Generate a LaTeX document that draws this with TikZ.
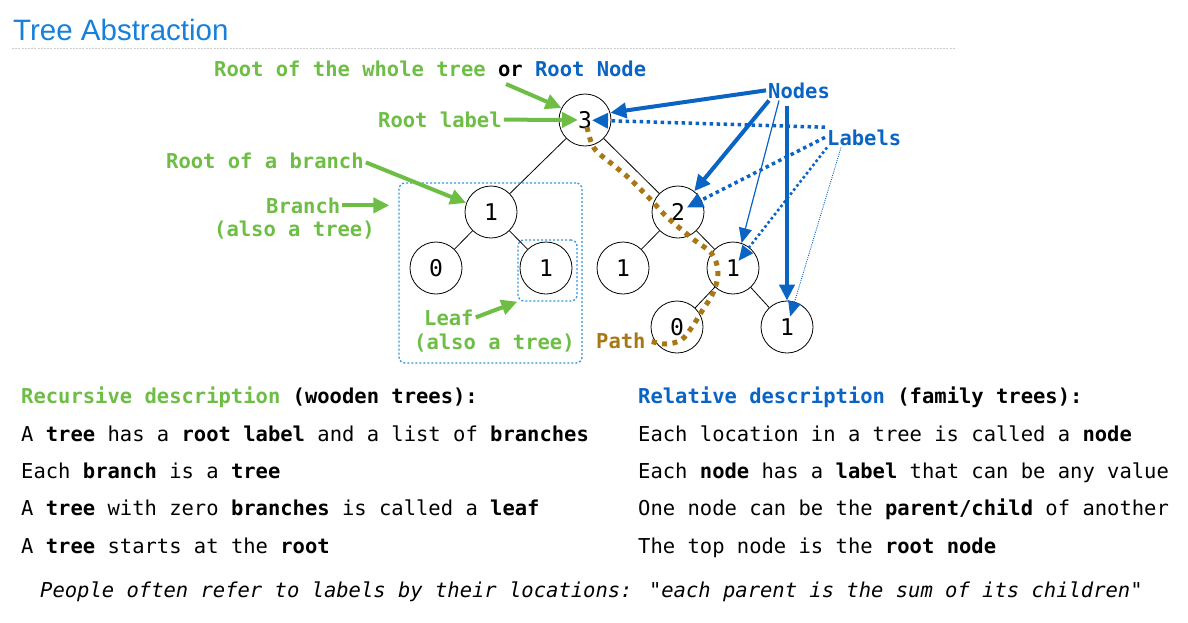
\documentclass[tikz,border=0pt]{standalone}
\usepackage{fontspec}
\setmainfont{DejaVu Sans Mono}[Ligatures=TeXOff]
\newfontfamily\titlefont{Liberation Sans}
\usetikzlibrary{arrows.meta}

\definecolor{tgreen}{RGB}{110,190,70}
\definecolor{tblue}{RGB}{10,100,195}
\definecolor{boxblue}{RGB}{50,150,220}
\definecolor{tbrown}{RGB}{168,120,22}
\definecolor{titleblue}{RGB}{22,128,218}
\definecolor{rulegray}{RGB}{205,205,205}

\newcommand{\bodyfont}{\fontsize{20.5}{24}\selectfont}

\tikzset{
  treenode/.style={circle, draw=black, line width=0.8pt, minimum size=52pt,
    inner sep=0pt, font=\fontsize{23}{26}\selectfont},
  treeedge/.style={draw=black, line width=0.8pt},
  txt/.style={anchor=base west, inner sep=2pt, font=\bodyfont},
  ann/.style={txt, text=tgreen, font=\bodyfont\bfseries},
  blueann/.style={txt, text=tblue, font=\bodyfont\bfseries},
  bighead/.style={-{Triangle[length=16pt,width=15pt]}},
  greenarrow/.style={bighead, draw=tgreen, fill=tgreen, line width=4pt},
  nodearrow/.style={bighead, draw=tblue, fill=tblue, line width=4pt},
  thinnodearrow/.style={-{Triangle[length=15pt,width=13pt]}, draw=tblue, fill=tblue, line width=1.2pt},
  labelarrow/.style={draw=tblue, line width=3.5pt, dash pattern=on 3.5pt off 3.5pt,
    -{Triangle[length=16pt,width=15pt,sep=0pt]}},
  dottedbox/.style={draw=boxblue, line width=1.3pt, dash pattern=on 2pt off 2pt,
    rounded corners=6pt, inner sep=0pt},
  pathline/.style={draw=tbrown, line width=5pt, dash pattern=on 5pt off 5.5pt}
}

\begin{document}
\begin{tikzpicture}[x=1pt,y=-1pt]
\useasboundingbox (0,0) rectangle (1188,622);

% heading and rule
\node[anchor=base west, inner sep=0pt, text=titleblue,
  font=\titlefont\fontsize{29.5}{33}\selectfont] (title) at (13,40) {Tree Abstraction};
\draw[rulegray, line width=1pt, dash pattern=on 2pt off 1.2pt] (12,48) -- (955,48);

% the tree
\node[treenode] (n3)  at (585,120) {3};
\node[treenode] (n1)  at (491,212) {1};
\node[treenode] (n0a) at (436,268) {0};
\node[treenode] (n1a) at (546,268) {1};
\node[treenode] (n2)  at (678,212) {2};
\node[treenode] (n1b) at (623,268) {1};
\node[treenode] (n1c) at (733,268) {1};
\node[treenode] (n0b) at (677,327) {0};
\node[treenode] (n1d) at (787,327) {1};

\draw[treeedge] (n3) -- (n1);
\draw[treeedge] (n3) -- (n2);
\draw[treeedge] (n1) -- (n0a);
\draw[treeedge] (n1) -- (n1a);
\draw[treeedge] (n2) -- (n1b);
\draw[treeedge] (n2) -- (n1c);
\draw[treeedge] (n1c) -- (n0b);
\draw[treeedge] (n1c) -- (n1d);

% branch and leaf outlines
\node[dottedbox, minimum width=183pt, minimum height=180pt] (bbox) at (490.5,273) {};
\node[dottedbox, minimum width=59pt, minimum height=61pt] (lbox) at (547.5,270.5) {};

% green annotations
\node[txt, font=\bodyfont\bfseries] (whole) at (212,76)
  {\textcolor{tgreen}{Root of the whole tree} or \textcolor{tblue}{Root Node}};
\node[ann] (rootlabel) at (376,127) {Root label};
\node[ann] (rootbranch) at (164,168) {Root of a branch};
\node[ann] (branch) at (264,213) {Branch};
\node[ann] (branch2) at (212,236) {(also a tree)};
\node[ann] (leaf) at (422,325) {Leaf};
\node[ann] (leaf2) at (412,349) {(also a tree)};
\node[txt, text=tbrown, font=\bodyfont\bfseries] (pathtxt) at (594,348) {Path};

\coordinate (wholefoot) at (506,84);
\draw[greenarrow] (wholefoot) -- (n3.153);
\draw[greenarrow, shorten >=7pt] (rootlabel) -- (n3.center);
\draw[greenarrow] ([yshift=-2pt]rootbranch.east) -- (n1.160);
\draw[greenarrow, shorten >=9pt] (branch.east) -- (bbox.west |- branch.east);
\draw[greenarrow] (leaf.east) -- (lbox.south west);

% path through the tree
\draw[pathline] plot[smooth, tension=0.6] coordinates {
  (587,127) (594,148) (612,164) (630,179) (651,200) (668,218)
  (693,239) (712,254) (718,273) (713,293) (702,311) (692,327)
  (681,340) (665,344) (pathtxt.east)};

% blue annotations
\node[blueann] (nodes) at (766,98) {Nodes};
\node[blueann] (labels) at (825,145) {Labels};

\draw[nodearrow] (nodes.west) -- (n3.16);
\draw[nodearrow] ([xshift=3pt]nodes.south west) -- (n2.52);
\draw[thinnodearrow] ([xshift=13pt]nodes.south west) -- (n1c.71);
\draw[nodearrow, shorten <=6pt] (nodes.south -| n1d) -- (n1d.north);

\draw[labelarrow, shorten >=7pt] (labels.north west) -- (n3.center);
\draw[labelarrow, shorten >=10pt] (labels.west) -- (n2.center);
\draw[labelarrow, line width=2.6pt, dash pattern=on 2.6pt off 2.6pt,
  -{Triangle[length=15pt,width=13pt]}, shorten >=9pt]
  ([xshift=2pt]labels.south west) -- (n1c.center);
\draw[draw=tblue, line width=0.9pt, dash pattern=on 1pt off 1.2pt,
  -{Triangle[length=15pt,width=13pt]}, shorten >=11pt]
  ([xshift=16pt]labels.south west) -- (n1d.center);

% recursive description
\node[txt, font=\bodyfont\bfseries] (rhead) at (19,403)
  {\textcolor{tgreen}{Recursive description} (wooden trees):};
\node[txt] (r1) at (19,441) {A \textbf{tree} has a \textbf{root label} and a list of \textbf{branches}};
\node[txt] (r2) at (19,478) {Each \textbf{branch} is a \textbf{tree}};
\node[txt] (r3) at (19,515) {A \textbf{tree} with zero \textbf{branches} is called a \textbf{leaf}};
\node[txt] (r4) at (19,553) {A \textbf{tree} starts at the \textbf{root}};

% relative description
\node[txt, font=\bodyfont\bfseries] (fhead) at (636,403)
  {\textcolor{tblue}{Relative description} (family trees):};
\node[txt] (f1) at (636,441) {Each location in a tree is called a \textbf{node}};
\node[txt] (f2) at (636,478) {Each \textbf{node} has a \textbf{label} that can be any value};
\node[txt] (f3) at (636,515) {One node can be the \textbf{parent/child} of another};
\node[txt] (f4) at (636,553) {The top node is the \textbf{root node}};

% closing remark
\node[txt, font=\bodyfont\itshape] (remark) at (38,597)
  {People often refer to labels by their locations: "each parent is the sum of its children"};
\end{tikzpicture}
\end{document}
